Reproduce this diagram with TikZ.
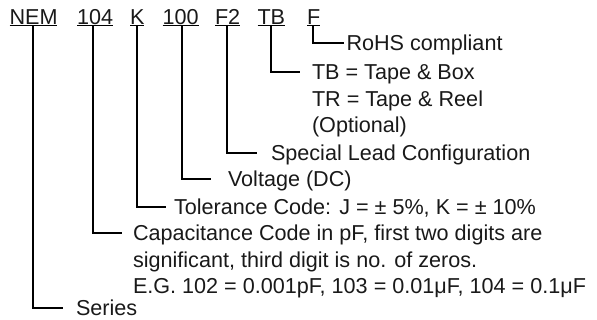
\documentclass[tikz,border=0pt]{standalone}
\usepackage{fontspec}
\setmainfont{Liberation Sans}
\begin{document}
\begin{tikzpicture}[x=1pt,y=-1pt,
  txt/.style={anchor=west,inner sep=0pt,outer sep=0pt,text height=15.4pt,text depth=0pt,
    font=\fontsize{21.6}{26}\selectfont,text=black!90},
  uline/.style={line width=1.4pt},
  conn/.style={line width=2pt}]
\useasboundingbox (0,0) rectangle (597,320);
% header
\node[txt] (nem) at (9.5,16.5) {NEM};
\node[txt] (cap) at (77,16.5) {104};
\node[txt] (tol) at (130,16.5) {K};
\node[txt] (volt) at (162.5,16.5) {100};
\node[txt] (lead) at (215,16.5) {F2};
\node[txt] (pack) at (257.5,16.5) {TB};
\node[txt] (rohs) at (307,16.5) {F};
\foreach \n in {nem,cap,tol,volt,lead,pack,rohs}
  \draw[uline] ([yshift=-1.6pt]\n.south west) -- ([yshift=-1.6pt]\n.south east);
% descriptions
\node[txt] (drohs) at (346.5,43) {RoHS compliant};
\node[txt] (dpack) at (312,72) {TB = Tape \& Box};
\node[txt] (dpack2) at (312,99) {TR = Tape \& Reel};
\node[txt] (dpack3) at (312,125) {(Optional)};
\node[txt] (dlead) at (271,153) {Special Lead Configuration};
\node[txt] (dvolt) at (228,179) {Voltage (DC)};
\node[txt] (dtol) at (174,207) {Tolerance Code: J = ± 5\%, K = ± 10\%};
\node[txt] (dcap) at (133,233) {Capacitance Code in pF, first two digits are};
\node[txt] (dcap2) at (133,259.5) {significant, third digit is no. of zeros.};
\node[txt] (dcap3) at (133,286) {E.G. 102 = 0.001pF, 103 = 0.01μF, 104 = 0.1μF};
\node[txt] (dnem) at (76,308) {Series};
% connectors
\draw[conn] ([xshift=-1pt,yshift=-1.6pt]rohs.south) |- ([xshift=-3pt]drohs.west);
\draw[conn] ([xshift=-0.5pt,yshift=-1.6pt]pack.south) |- ([xshift=-12pt]dpack.west);
\draw[conn] ([xshift=-0.5pt,yshift=-1.6pt]lead.south) |- ([xshift=-14pt]dlead.west);
\draw[conn] ([xshift=1pt,yshift=-1.6pt]volt.south) |- ([xshift=-17pt]dvolt.west);
\draw[conn] ([xshift=-0.5pt,yshift=-1.6pt]tol.south) |- ([xshift=-8pt]dtol.west);
\draw[conn] ([xshift=-2pt,yshift=-1.6pt]cap.south) |- ([xshift=-11pt]dcap.west);
\draw[conn] ([xshift=-0.5pt,yshift=-1.6pt]nem.south) |- ([xshift=-13pt]dnem.west);
\end{tikzpicture}
\end{document}
